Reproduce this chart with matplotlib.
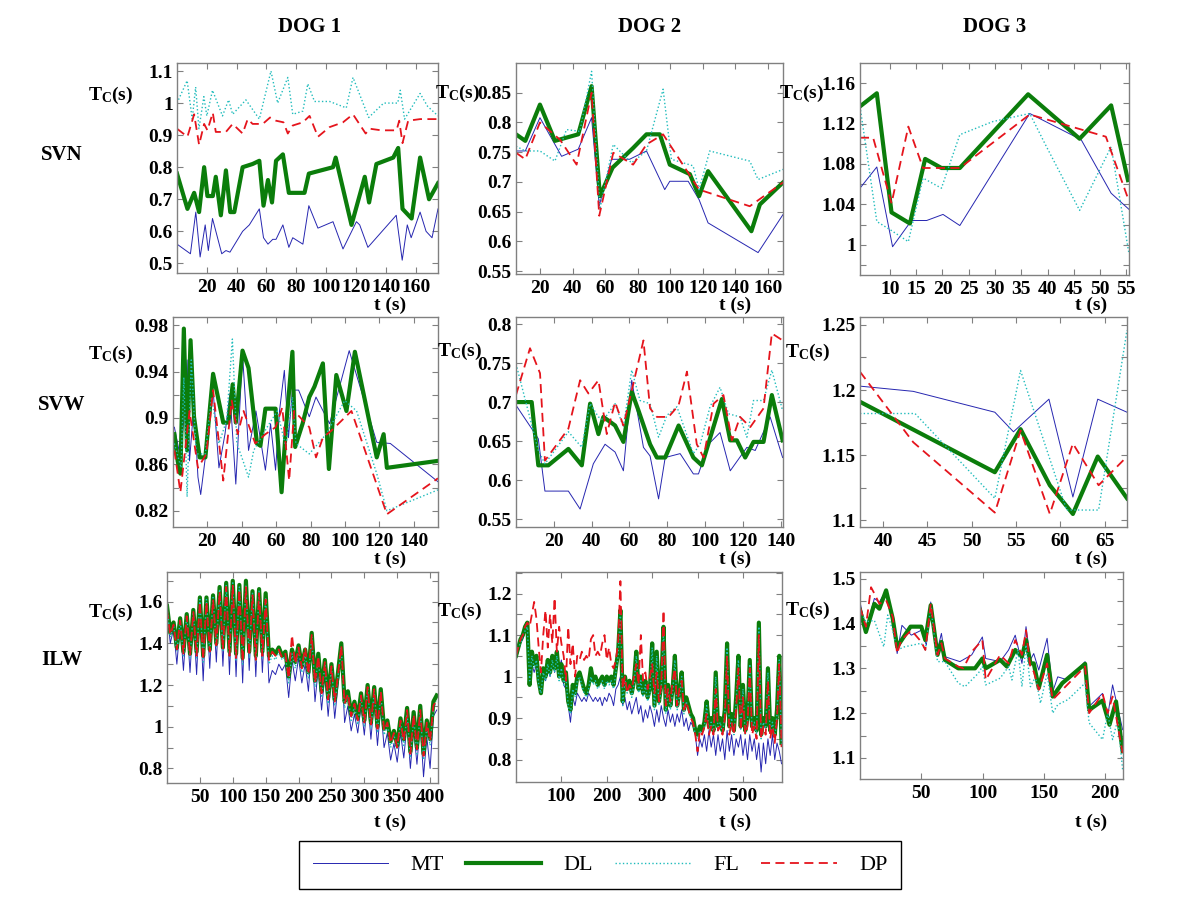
import matplotlib
matplotlib.use("Agg")
import matplotlib.pyplot as plt
from matplotlib.lines import Line2D

plt.rcParams['font.family'] = ['Liberation Serif', 'DejaVu Serif']
plt.rcParams['mathtext.fontset'] = 'custom'
plt.rcParams['mathtext.rm'] = 'Liberation Serif:bold'
plt.rcParams['mathtext.it'] = 'Liberation Serif:bold'
plt.rcParams['mathtext.bf'] = 'Liberation Serif:bold'

series_names = ['MT', 'DL', 'FL', 'DP']
dogs = ['DOG 1', 'DOG 2', 'DOG 3']
rows = ['SVN', 'SVW', 'ILW']

# ---------------- SVN, dog 1 ----------------
svn1_mt_t = [0, 9, 12.6, 15.5, 18.9, 21, 23.8, 30, 32.8, 35.5, 44, 48.5, 55.2, 58, 61, 64.2, 66.4, 71, 75,
             77.6, 84.4, 88.4, 94.5, 104.6, 111.3, 120.3, 122.5, 128, 133.7, 147, 151, 154.4, 157, 163,
             167, 171, 175]
svn1_mt = [0.56, 0.53, 0.66, 0.52, 0.62, 0.54, 0.64, 0.53, 0.54, 0.535, 0.6, 0.62, 0.67, 0.58, 0.56, 0.575,
           0.575, 0.62, 0.55, 0.58, 0.56, 0.68, 0.61, 0.63, 0.545, 0.63, 0.62, 0.55, 0.58, 0.65, 0.51, 0.62,
           0.58, 0.66, 0.6, 0.58, 0.67]
svn1_dl_t = [0, 7, 11.5, 14.8, 18.2, 20.4, 24, 26, 29.4, 32.8, 35.7, 38.4, 44, 50.7, 55.2, 58, 61, 63.7, 66.4,
             71, 75, 85.5, 88.4, 104.6, 106.4, 117, 125.9, 128.8, 133.7, 145, 148.3, 151.2, 157.3, 163,
             169, 175]
svn1_dl = [0.78, 0.67, 0.72, 0.66, 0.8, 0.71, 0.71, 0.77, 0.65, 0.79, 0.66, 0.66, 0.8, 0.81, 0.82, 0.68,
           0.76, 0.69, 0.82, 0.84, 0.72, 0.72, 0.78, 0.8, 0.83, 0.62, 0.77, 0.69, 0.81, 0.83, 0.86, 0.67,
           0.64, 0.83, 0.7, 0.75]
svn1_fl_t = [0, 6.8, 10.2, 12.5, 14.7, 18, 20, 23.8, 30.5, 34.6, 37.3, 46.2, 55.2, 63, 67.5, 74.3, 77.6,
             84.4, 87.7, 92.2, 102.3, 113.5, 118, 128.5, 138.6, 148, 149.7, 152.6, 163, 168, 175]
svn1_fl = [1.0, 1.07, 0.95, 1.05, 0.92, 1.02, 0.96, 1.04, 0.96, 1.01, 0.965, 1.01, 0.95, 1.1, 1.0, 1.08,
           0.965, 0.975, 1.06, 1.005, 1.005, 0.985, 1.08, 0.955, 1.0, 1.0, 1.04, 0.95, 1.03, 0.99, 0.96]
svn1_dp_t = [0, 7, 11.5, 14.8, 18.2, 20.4, 24, 26, 32.8, 37.3, 44, 47.4, 50.7, 57.5, 62.4, 66.4, 71.4, 74.3,
             77.6, 84.4, 88.9, 94.5, 102.3, 111.3, 118, 126.5, 129.3, 137, 147.2, 149, 151.2, 155, 163, 175]
svn1_dp = [0.92, 0.895, 0.965, 0.87, 0.935, 0.915, 0.97, 0.91, 0.91, 0.935, 0.905, 0.95, 0.935, 0.935,
           0.955, 0.945, 0.94, 0.905, 0.93, 0.94, 0.96, 0.895, 0.925, 0.94, 0.965, 0.905, 0.92, 0.915,
           0.915, 0.945, 0.875, 0.945, 0.95, 0.95]

# ---------------- SVN, dog 2 ----------------
svn2_mt_t = [5.3, 11, 20, 33.3, 43.5, 51.7, 56.4, 64, 75, 85.4, 96.6, 99.7, 111, 117.7, 123.2, 153.9, 169.2]
svn2_mt = [0.752, 0.752, 0.808, 0.743, 0.755, 0.808, 0.66, 0.738, 0.738, 0.752, 0.687, 0.701, 0.701, 0.67,
           0.631, 0.581, 0.645]
svn2_dl_t = [5.3, 11, 20, 29.2, 43.5, 51.7, 56.8, 64.6, 77.2, 85.4, 93.6, 99.7, 112, 117.7, 123.2, 149.8,
             155, 169.2]
svn2_dl = [0.78, 0.769, 0.83, 0.769, 0.78, 0.861, 0.676, 0.724, 0.757, 0.78, 0.78, 0.729, 0.713, 0.676,
           0.718, 0.617, 0.662, 0.699]
svn2_fl_t = [5.3, 11, 20, 29.2, 36.3, 44.5, 51.7, 56.8, 65, 76.2, 85.4, 95.6, 100.7, 114, 117.7, 124.2,
             148.8, 153.9, 169.2]
svn2_fl = [0.76, 0.752, 0.752, 0.735, 0.788, 0.785, 0.886, 0.654, 0.763, 0.732, 0.752, 0.856, 0.738,
           0.727, 0.687, 0.752, 0.735, 0.704, 0.721]
svn2_dp_t = [5.3, 11, 20, 32.3, 42.5, 51.7, 56.4, 65, 77.2, 85.4, 95.6, 117.7, 148.8, 169.2]
svn2_dp = [0.749, 0.738, 0.8, 0.771, 0.729, 0.85, 0.643, 0.749, 0.729, 0.763, 0.78, 0.687, 0.659, 0.699]

# ---------------- SVN, dog 3 ----------------
svn3_mt_t = [4.3, 7.5, 10.5, 14.1, 17, 20.1, 23.3, 36.6, 46.4, 52.1, 55.5]
svn3_mt = [1.056, 1.077, 0.998, 1.024, 1.024, 1.03, 1.019, 1.13, 1.104, 1.051, 1.035]
svn3_dl_t = [4.3, 7.5, 10.3, 13.8, 16.7, 19.8, 23.3, 36.3, 46.1, 52.1, 55.3]
svn3_dl = [1.137, 1.15, 1.032, 1.021, 1.085, 1.076, 1.076, 1.149, 1.105, 1.138, 1.064]
svn3_fl_t = [4.3, 7.5, 10.3, 13.5, 16.3, 19.8, 23.3, 29.6, 36.6, 39.8, 46.1, 52.1, 55.5]
svn3_fl = [1.137, 1.023, 1.014, 1.003, 1.066, 1.056, 1.109, 1.122, 1.13, 1.097, 1.034, 1.097, 0.991]
svn3_dp_t = [4.3, 6.8, 10.3, 13.5, 16.3, 23.3, 36.6, 51.1, 55.3]
svn3_dp = [1.106, 1.106, 1.041, 1.117, 1.076, 1.076, 1.129, 1.107, 1.046]

# ---------------- SVW, dog 1 ----------------
svw1_mt_t = [0.8, 4.3, 6.7, 8.2, 9.6, 12.2, 14.5, 16.1, 18.8, 23.3, 26.7, 30.2, 33.1, 36.5, 40.4, 43.9,
             48.2, 53.7, 56.7, 59.6, 61.9, 64.7, 67.1, 69.4, 73, 79.2, 83.1, 91, 102.4, 118.4, 126.3, 154]
svw1_mt = [0.892, 0.866, 0.906, 0.95, 0.863, 0.912, 0.849, 0.834, 0.866, 0.924, 0.857, 0.886, 0.921, 0.843,
           0.955, 0.872, 0.906, 0.855, 0.895, 0.855, 0.906, 0.941, 0.883, 0.924, 0.924, 0.901, 0.918, 0.895,
           0.958, 0.879, 0.878, 0.845]
svw1_dl_t = [0.8, 2.7, 4.3, 6.3, 8.2, 10.2, 12.2, 15.5, 18.8, 23.3, 29.2, 32.2, 34.7, 36.5, 40.4, 43.9, 48.8,
             50.8, 53.7, 59.6, 63.1, 65.5, 69.4, 71, 75.3, 79.2, 82.2, 87.1, 90.6, 94.9, 100.8, 105.7, 118.4,
             122.4, 124.3, 154]
svw1_dl = [0.886, 0.863, 0.852, 0.977, 0.872, 0.967, 0.901, 0.866, 0.866, 0.938, 0.896, 0.896, 0.929, 0.896,
           0.958, 0.943, 0.878, 0.876, 0.908, 0.908, 0.836, 0.889, 0.957, 0.875, 0.895, 0.918, 0.927, 0.947,
           0.856, 0.937, 0.906, 0.957, 0.866, 0.886, 0.857, 0.863]
svw1_fl_t = [0.8, 4.7, 6.3, 8.2, 10.6, 13.5, 18.8, 22.4, 26.7, 31.2, 34.5, 37.1, 40, 43.9, 46.9, 54.7, 60.6,
             65.5, 69.4, 71.4, 79.2, 89, 99.8, 106.7, 118.4, 124.3, 154]
svw1_fl = [0.878, 0.857, 0.935, 0.832, 0.95, 0.869, 0.869, 0.918, 0.878, 0.898, 0.968, 0.878, 0.866, 0.849,
           0.872, 0.892, 0.906, 0.875, 0.918, 0.878, 0.869, 0.886, 0.915, 0.906, 0.852, 0.82, 0.838]
svw1_dp_t = [0.8, 4.3, 9.6, 14.5, 19.4, 23.3, 29.2, 34.1, 37.6, 41, 47.8, 53.7, 59.6, 63.5, 67.5, 70.4, 79.2,
             83.1, 87.1, 92, 103.7, 124.3, 154]
svw1_dp = [0.872, 0.836, 0.906, 0.857, 0.869, 0.924, 0.846, 0.915, 0.886, 0.906, 0.878, 0.886, 0.892, 0.909,
           0.846, 0.906, 0.892, 0.866, 0.883, 0.889, 0.906, 0.817, 0.848]

# ---------------- SVW, dog 2 ----------------
svw2_mt_t = [0, 8.3, 11.8, 15.3, 27.7, 33.9, 40.9, 47.1, 52.4, 56.8, 61.2, 67.4, 70.9, 75.4, 78.9, 86.8, 93.8,
             96.5, 101.8, 107.9, 113.3, 122.1, 126.5, 134.4, 141]
svw2_mt = [0.696, 0.666, 0.653, 0.586, 0.586, 0.563, 0.621, 0.646, 0.636, 0.612, 0.728, 0.642, 0.631, 0.576,
           0.629, 0.634, 0.608, 0.608, 0.646, 0.661, 0.612, 0.642, 0.638, 0.681, 0.629]
svw2_dl_t = [0, 8.3, 11.8, 17.1, 27.7, 34.8, 39.2, 43.6, 46.2, 52.4, 56.8, 61.2, 64.8, 70.9, 74.5, 78.9, 86,
             93.8, 98.3, 108.9, 113.3, 116.8, 121.2, 125.6, 130.9, 135.3, 141]
svw2_dl = [0.7, 0.7, 0.619, 0.619, 0.64, 0.619, 0.698, 0.659, 0.681, 0.67, 0.649, 0.713, 0.689, 0.646, 0.629,
           0.629, 0.67, 0.629, 0.619, 0.704, 0.651, 0.651, 0.629, 0.649, 0.649, 0.709, 0.651]
svw2_fl_t = [0, 11.8, 15.3, 27.7, 34.8, 39.2, 43.6, 46.2, 52.4, 56.8, 61.2, 65.6, 70.9, 75.4, 79.8, 85.1, 93.8,
             97.4, 102.6, 107.9, 112.4, 118.5, 122.1, 125.6, 130.9, 135.3, 141]
svw2_fl = [0.749, 0.638, 0.621, 0.662, 0.642, 0.698, 0.681, 0.677, 0.698, 0.668, 0.741, 0.702, 0.698, 0.655,
           0.683, 0.694, 0.634, 0.646, 0.694, 0.719, 0.685, 0.681, 0.655, 0.702, 0.702, 0.741, 0.689]
svw2_dp_t = [0, 7.4, 12.7, 15.3, 27.7, 33.9, 38.3, 43.6, 48, 52.4, 56.8, 62.1, 67.4, 70.9, 74.5, 80.7, 86, 90.4,
             95.6, 99.2, 104.5, 109.7, 114.2, 118.5, 123.9, 130.9, 135.3, 141]
svw2_dp = [0.709, 0.769, 0.737, 0.625, 0.666, 0.728, 0.711, 0.728, 0.659, 0.7, 0.67, 0.724, 0.779, 0.692, 0.681,
           0.681, 0.696, 0.739, 0.646, 0.629, 0.698, 0.709, 0.651, 0.681, 0.668, 0.692, 0.788, 0.779]

# ---------------- SVW, dog 3 ----------------
svw3_mt_t = [37.4, 43.4, 52.6, 54.7, 58.7, 61.4, 64.2, 67.5]
svw3_mt = [1.203, 1.199, 1.183, 1.168, 1.193, 1.118, 1.193, 1.183]
svw3_dl_t = [37.4, 52.6, 55.5, 58.8, 61.4, 64.2, 67.5]
svw3_dl = [1.191, 1.137, 1.17, 1.127, 1.105, 1.149, 1.117]
svw3_fl_t = [37.4, 43.6, 52.6, 55.5, 60.7, 64.3, 67.5]
svw3_fl = [1.182, 1.182, 1.117, 1.215, 1.108, 1.108, 1.246]
svw3_dp_t = [37.4, 43.4, 52.6, 55.5, 58.8, 61.4, 64.3, 67.5]
svw3_dp = [1.214, 1.16, 1.106, 1.169, 1.105, 1.159, 1.127, 1.149]

# ---------------- ILW, dog 1 (sampled every 5 s) ----------------
ilw1_t = list(range(0, 415, 5))
ilw1_mt = [1.55, 1.40, 1.47, 1.30, 1.49, 1.27, 1.51, 1.26, 1.53, 1.25,
           1.58, 1.22, 1.58, 1.28, 1.59, 1.31, 1.63, 1.29, 1.65, 1.25,
           1.66, 1.24, 1.64, 1.21, 1.65, 1.27, 1.61, 1.24, 1.61, 1.26,
           1.58, 1.21, 1.27, 1.25, 1.30, 1.27, 1.30, 1.14, 1.32, 1.22,
           1.33, 1.21, 1.30, 1.17, 1.40, 1.12, 1.28, 1.08, 1.25, 1.05,
           1.24, 1.04, 1.20, 1.35, 1.02, 1.10, 0.98, 1.06, 0.97, 1.10,
           0.96, 1.14, 0.94, 1.12, 0.91, 1.10, 0.90, 0.97, 0.84, 0.92,
           0.83, 0.97, 0.85, 1.02, 0.80, 0.99, 0.82, 1.02, 0.76, 0.95,
           0.80, 1.05, 1.08]
ilw1_dl = [1.58, 1.45, 1.50, 1.38, 1.52, 1.36, 1.54, 1.35, 1.56, 1.36,
           1.62, 1.34, 1.62, 1.37, 1.63, 1.40, 1.67, 1.38, 1.69, 1.36,
           1.70, 1.35, 1.68, 1.33, 1.70, 1.36, 1.65, 1.34, 1.66, 1.36,
           1.64, 1.34, 1.37, 1.35, 1.38, 1.34, 1.36, 1.24, 1.37, 1.31,
           1.39, 1.29, 1.37, 1.26, 1.45, 1.22, 1.35, 1.17, 1.32, 1.14,
           1.30, 1.13, 1.26, 1.40, 1.12, 1.17, 1.06, 1.12, 1.04, 1.16,
           1.03, 1.20, 1.02, 1.19, 1.00, 1.18, 0.99, 1.03, 0.93, 0.98,
           0.91, 1.04, 0.94, 1.09, 0.88, 1.07, 0.90, 1.10, 0.87, 1.03,
           0.94, 1.12, 1.15]
ilw1_fl = [1.57, 1.43, 1.49, 1.36, 1.51, 1.34, 1.53, 1.33, 1.55, 1.33,
           1.61, 1.31, 1.61, 1.35, 1.62, 1.38, 1.66, 1.36, 1.68, 1.33,
           1.69, 1.32, 1.67, 1.30, 1.68, 1.33, 1.64, 1.31, 1.65, 1.33,
           1.62, 1.30, 1.34, 1.32, 1.36, 1.32, 1.34, 1.21, 1.35, 1.28,
           1.37, 1.26, 1.35, 1.23, 1.43, 1.19, 1.33, 1.14, 1.30, 1.11,
           1.28, 1.10, 1.24, 1.38, 1.09, 1.15, 1.03, 1.10, 1.01, 1.14,
           1.00, 1.18, 0.99, 1.17, 0.97, 1.16, 0.96, 1.01, 0.90, 0.96,
           0.89, 1.02, 0.91, 1.06, 0.85, 1.04, 0.87, 1.07, 0.84, 1.00,
           0.91, 1.09, 1.12]
ilw1_dp = [1.56, 1.44, 1.49, 1.37, 1.51, 1.35, 1.53, 1.34, 1.55, 1.34,
           1.60, 1.32, 1.60, 1.36, 1.61, 1.39, 1.65, 1.37, 1.67, 1.34,
           1.68, 1.33, 1.66, 1.31, 1.67, 1.34, 1.63, 1.32, 1.64, 1.34,
           1.61, 1.32, 1.36, 1.34, 1.37, 1.33, 1.35, 1.23, 1.44, 1.30,
           1.38, 1.28, 1.38, 1.25, 1.44, 1.21, 1.34, 1.16, 1.31, 1.13,
           1.29, 1.12, 1.25, 1.39, 1.11, 1.16, 1.05, 1.11, 1.03, 1.15,
           1.02, 1.19, 1.01, 1.18, 0.99, 1.17, 0.98, 1.02, 0.92, 0.97,
           0.90, 1.03, 0.93, 1.08, 0.87, 1.06, 0.89, 1.08, 0.86, 1.02,
           0.93, 1.10, 1.13]

# ---------------- ILW, dog 2 (sampled every 5 s) ----------------
ilw2_t = list(range(0, 590, 5))
ilw2_mt = [1.04, 1.06, 1.08, 1.09, 1.11, 1.12, 1.00, 1.03, 1.01, 1.03,
           0.98, 0.97, 1.00, 0.99, 1.02, 1.00, 1.04, 1.01, 1.05, 1.02,
           1.04, 0.98, 0.97, 0.93, 0.89, 0.95, 0.93, 0.96, 0.95, 0.94,
           0.95, 0.94, 0.96, 0.95, 0.94, 0.95, 0.94, 0.95, 0.93, 0.95,
           0.94, 0.96, 0.95, 0.93, 0.97, 0.98, 1.00, 0.93, 0.95, 0.92,
           0.94, 0.91, 0.93, 0.95, 0.91, 0.93, 0.89, 0.92, 0.90, 0.93,
           0.91, 0.88, 0.92, 0.89, 0.93, 0.90, 0.88, 0.92, 0.89, 0.91,
           0.88, 0.91, 0.89, 0.92, 0.88, 0.90, 0.87, 0.89, 0.88, 0.86,
           0.81, 0.85, 0.83, 0.86, 0.82, 0.87, 0.83, 0.86, 0.81, 0.86,
           0.82, 0.85, 0.80, 0.87, 0.82, 0.86, 0.81, 0.85, 0.83, 0.86,
           0.81, 0.85, 0.80, 0.86, 0.82, 0.85, 0.80, 0.84, 0.77, 0.84,
           0.79, 0.85, 0.81, 0.86, 0.80, 0.84, 0.82, 0.79]
ilw2_dl = [1.05, 1.07, 1.09, 1.10, 1.12, 1.13, 0.98, 1.06, 1.03, 1.05,
           0.99, 0.96, 1.02, 1.00, 1.04, 1.01, 1.05, 1.02, 1.06, 1.00,
           1.03, 0.99, 1.01, 0.94, 0.92, 0.98, 0.96, 1.00, 1.01, 0.99,
           0.97, 0.96, 0.98, 1.02, 0.99, 1.00, 0.98, 0.99, 1.00, 0.98,
           1.00, 0.99, 1.00, 0.98, 1.02, 1.06, 1.16, 0.94, 1.00, 0.97,
           0.99, 0.96, 0.99, 1.06, 0.97, 1.00, 0.96, 0.99, 0.95, 0.97,
           1.08, 0.93, 1.06, 0.94, 0.98, 1.12, 0.92, 0.98, 0.93, 0.97,
           1.05, 0.93, 0.96, 1.01, 0.92, 0.95, 0.93, 0.91, 0.90, 0.87,
           0.86, 0.88, 0.87, 0.89, 0.94, 0.88, 0.90, 0.87, 1.01, 0.88,
           0.90, 0.87, 0.92, 1.08, 0.88, 0.91, 0.87, 0.95, 1.05, 0.88,
           0.98, 0.87, 0.90, 1.04, 0.88, 0.90, 0.87, 1.13, 0.86, 0.90,
           0.88, 1.02, 0.87, 0.90, 0.86, 0.92, 1.05, 0.84]
ilw2_fl = [1.05, 1.07, 1.08, 1.10, 1.11, 1.12, 0.99, 1.05, 1.02, 1.04,
           0.98, 0.96, 1.01, 0.99, 1.03, 1.00, 1.04, 1.01, 1.05, 0.99,
           1.02, 0.98, 1.00, 0.93, 0.91, 0.97, 0.95, 0.99, 1.00, 0.98,
           0.96, 0.95, 0.97, 1.00, 0.98, 0.99, 0.97, 0.98, 0.99, 0.97,
           0.99, 0.98, 0.99, 0.97, 1.01, 1.05, 1.16, 0.93, 0.99, 0.96,
           0.98, 0.95, 0.98, 1.05, 0.96, 0.99, 0.95, 0.98, 0.94, 0.96,
           1.07, 0.92, 1.05, 0.93, 0.97, 1.11, 0.91, 0.97, 0.92, 0.96,
           1.04, 0.92, 0.95, 1.00, 0.91, 0.94, 0.92, 0.90, 0.89, 0.86,
           0.85, 0.87, 0.86, 0.88, 0.93, 0.87, 0.89, 0.86, 1.00, 0.87,
           0.89, 0.86, 0.91, 1.07, 0.87, 0.90, 0.86, 0.94, 1.04, 0.87,
           0.97, 0.86, 0.89, 1.03, 0.87, 0.89, 0.86, 1.12, 0.85, 0.89,
           0.87, 1.01, 0.86, 0.89, 0.85, 0.91, 1.04, 0.83]
ilw2_dp = [1.05, 1.07, 1.09, 1.10, 1.12, 1.13, 1.12, 1.15, 1.18, 1.14,
           1.07, 1.01, 1.10, 1.16, 1.07, 1.15, 1.08, 1.19, 1.06, 1.12,
           1.08, 1.05, 0.99, 1.12, 1.03, 1.08, 1.00, 1.05, 1.04, 1.06,
           1.04, 1.05, 1.04, 1.09, 1.10, 1.05, 1.06, 1.05, 1.08, 1.10,
           1.04, 1.07, 1.03, 1.02, 1.04, 1.08, 1.23, 0.97, 1.00, 0.96,
           0.98, 0.97, 1.00, 1.03, 0.98, 1.10, 0.99, 1.01, 0.97, 1.00,
           1.03, 0.96, 1.01, 0.94, 0.98, 1.16, 0.93, 0.97, 0.94, 0.99,
           1.02, 0.93, 0.97, 0.99, 0.92, 0.94, 0.92, 0.90, 0.89, 0.86,
           0.82, 0.87, 0.86, 0.88, 0.91, 0.86, 0.88, 0.86, 0.97, 0.87,
           0.88, 0.86, 0.90, 1.05, 0.86, 0.89, 0.86, 0.92, 1.02, 0.87,
           0.95, 0.86, 0.88, 1.02, 0.86, 0.88, 0.85, 1.10, 0.85, 0.88,
           0.86, 0.99, 0.85, 0.88, 0.84, 0.90, 1.03, 0.83]

# ---------------- ILW, dog 3 ----------------
ilw3_mt_t = [0, 4.8, 11.7, 15.8, 21.3, 26.7, 30.3, 34.2, 41.9, 50, 54.1, 57.7, 62.4, 66.4, 69.2, 81.5, 91.1,
             99.8, 102.5, 114.3, 121.2, 126.6, 132.1, 135.4, 139, 141.7, 145.8, 152.6, 157.2, 161.3, 169.5,
             183.6, 186.9, 197.8, 202, 206, 214.2]
ilw3_mt = [1.448, 1.385, 1.456, 1.448, 1.474, 1.415, 1.333, 1.396, 1.374, 1.385, 1.352, 1.448, 1.333, 1.378,
           1.326, 1.315, 1.33, 1.37, 1.322, 1.315, 1.341, 1.374, 1.311, 1.393, 1.319, 1.333, 1.296, 1.367,
           1.248, 1.281, 1.274, 1.315, 1.215, 1.244, 1.193, 1.263, 1.163]
ilw3_dl_t = [0, 4.8, 11.7, 15.8, 21.3, 26.7, 30.3, 41.2, 50, 53.3, 57.7, 63.2, 66.4, 69.2, 80.1, 93.8, 99.8,
             102.5, 114.3, 119.8, 126.6, 132.1, 135.4, 139, 141.7, 145.8, 152.6, 157.2, 165, 183.6, 186.9,
             197.8, 203.5, 208.8, 214.2]
ilw3_dl = [1.43, 1.381, 1.444, 1.433, 1.474, 1.411, 1.348, 1.393, 1.393, 1.363, 1.441, 1.33, 1.359, 1.319,
           1.3, 1.3, 1.322, 1.3, 1.319, 1.304, 1.341, 1.326, 1.363, 1.311, 1.311, 1.256, 1.33, 1.237, 1.267,
           1.31, 1.207, 1.228, 1.174, 1.226, 1.115]
ilw3_fl_t = [0, 4.8, 11.7, 19.4, 22.6, 26.7, 30.3, 36.3, 50, 53.3, 57.7, 63.2, 69.2, 80.1, 85.6, 96.5, 99.8,
             102.5, 114.3, 121.2, 123.9, 128.8, 132.1, 135.4, 139, 143.1, 147.2, 152.6, 157.2, 161.3, 169.5,
             183.6, 186.9, 197.8, 202, 206, 210.2, 214.2]
ilw3_fl = [1.43, 1.404, 1.407, 1.348, 1.419, 1.385, 1.341, 1.348, 1.356, 1.341, 1.437, 1.315, 1.315, 1.267,
           1.259, 1.289, 1.304, 1.263, 1.278, 1.304, 1.274, 1.341, 1.259, 1.352, 1.259, 1.281, 1.222, 1.289,
           1.2, 1.219, 1.23, 1.267, 1.178, 1.141, 1.2, 1.141, 1.185, 1.074]
ilw3_dp_t = [0, 4.8, 9, 11.7, 15.8, 21.3, 26.7, 30.3, 33.6, 41.9, 50, 53.3, 57.7, 63.2, 66.4, 69.2, 80.1, 84.2,
             91.1, 99.8, 102.5, 114.3, 121.2, 126.6, 132.1, 135.4, 139, 141.7, 145.8, 152.6, 157.2, 165,
             183.6, 186.9, 197.8, 202, 206, 214.2]
ilw3_dp = [1.437, 1.393, 1.481, 1.467, 1.444, 1.452, 1.415, 1.333, 1.363, 1.385, 1.359, 1.341, 1.444, 1.33,
           1.356, 1.322, 1.304, 1.3, 1.337, 1.363, 1.274, 1.33, 1.311, 1.363, 1.33, 1.385, 1.3, 1.293, 1.252,
           1.311, 1.23, 1.252, 1.304, 1.2, 1.244, 1.2, 1.237, 1.111]

STYLE = {
    'MT': dict(color='#2626b0', lw=0.7, ls='-'),
    'DL': dict(color='#0b7d0b', lw=3.0, ls='-'),
    'FL': dict(color='#20bcbc', lw=1.0, ls=':'),
    'DP': dict(color='#e5141c', lw=1.3, ls=(0, (5, 3))),
}

W, H = 1200, 900
fig = plt.figure(figsize=(12, 9), dpi=100)


def fmt(v):
    return f"{round(v, 4):g}"


def panel(rect, data, xlim, ylim, xticks, yticks, ylabels, tc_xy, t_xy):
    x0, y0, x1, y1 = rect
    ax = fig.add_axes([x0 / W, 1 - y1 / H, (x1 - x0) / W, (y1 - y0) / H])
    for name, (xs, ys) in zip(series_names, data):
        ax.plot(xs, ys, **STYLE[name])
    ax.set_xlim(*xlim)
    ax.set_ylim(*ylim)
    ax.set_xticks(xticks)
    ax.set_xticklabels([fmt(v) for v in xticks], fontweight='bold', fontsize=14)
    ax.set_yticks(yticks)
    ax.set_yticklabels([fmt(v) if v in ylabels else '' for v in yticks], fontweight='bold', fontsize=14)
    ax.tick_params(direction='in', top=True, right=True, length=4, width=0.8, color='#808080')
    ax.tick_params(axis='y', pad=3)
    ax.tick_params(axis='x', pad=4)
    for s in ax.spines.values():
        s.set_color('#808080')
        s.set_linewidth(1.0)
    fig.text(tc_xy[0] / W, 1 - tc_xy[1] / H, r'T$_\mathrm{C}$(s)', ha='right', va='center',
             fontsize=14, fontweight='bold')
    fig.text(t_xy[0] / W, 1 - t_xy[1] / H, 't (s)', ha='center', va='center', fontsize=14, fontweight='bold')
    return ax


# row SVN  (T_C label positions given by their right edge)
panel((177, 63, 438, 273),
      [(svn1_mt_t, svn1_mt), (svn1_dl_t, svn1_dl), (svn1_fl_t, svn1_fl), (svn1_dp_t, svn1_dp)],
      (0, 175), (0.47, 1.125), [20, 40, 60, 80, 100, 120, 140, 160],
      [0.5, 0.6, 0.7, 0.8, 0.9, 1.0, 1.1], [0.5, 0.6, 0.7, 0.8, 0.9, 1.0, 1.1], (133, 95), (390, 305))
panel((516, 63, 783, 274),
      [(svn2_mt_t, svn2_mt), (svn2_dl_t, svn2_dl), (svn2_fl_t, svn2_fl), (svn2_dp_t, svn2_dp)],
      (5.3, 169.2), (0.545, 0.9), [20, 40, 60, 80, 100, 120, 140, 160],
      [0.55, 0.6, 0.65, 0.7, 0.75, 0.8, 0.85], [0.55, 0.6, 0.65, 0.7, 0.75, 0.8, 0.85], (480, 93), (735, 305))
panel((860, 63, 1129, 275),
      [(svn3_mt_t, svn3_mt), (svn3_dl_t, svn3_dl), (svn3_fl_t, svn3_fl), (svn3_dp_t, svn3_dp)],
      (4.3, 55.5), (0.97, 1.18), [10, 15, 20, 25, 30, 35, 40, 45, 50, 55],
      [0.98, 1.0, 1.02, 1.04, 1.06, 1.08, 1.1, 1.12, 1.14, 1.16], [1.0, 1.04, 1.08, 1.12, 1.16],
      (824, 93), (1091, 305))
# row SVW
panel((173, 317, 438, 527),
      [(svw1_mt_t, svw1_mt), (svw1_dl_t, svw1_dl), (svw1_fl_t, svw1_fl), (svw1_dp_t, svw1_dp)],
      (0, 154), (0.806, 0.987), [20, 40, 60, 80, 100, 120, 140],
      [0.82, 0.84, 0.86, 0.88, 0.9, 0.92, 0.94, 0.96, 0.98], [0.82, 0.86, 0.9, 0.94, 0.98],
      (133, 354), (390, 559))
panel((516, 317, 783, 527),
      [(svw2_mt_t, svw2_mt), (svw2_dl_t, svw2_dl), (svw2_fl_t, svw2_fl), (svw2_dp_t, svw2_dp)],
      (0, 141.2), (0.54, 0.809), [20, 40, 60, 80, 100, 120, 140],
      [0.55, 0.6, 0.65, 0.7, 0.75, 0.8], [0.55, 0.6, 0.65, 0.7, 0.75, 0.8], (482, 351), (735, 559))
panel((860, 317, 1127, 527),
      [(svw3_mt_t, svw3_mt), (svw3_dl_t, svw3_dl), (svw3_fl_t, svw3_fl), (svw3_dp_t, svw3_dp)],
      (37.4, 67.5), (1.095, 1.256), [40, 45, 50, 55, 60, 65],
      [1.1, 1.125, 1.15, 1.175, 1.2, 1.225, 1.25], [1.1, 1.15, 1.2, 1.25], (830, 352), (1091, 559))
# row ILW
ilw1 = [(ilw1_t, ilw1_mt), (ilw1_t, ilw1_dl), (ilw1_t, ilw1_fl), (ilw1_t, ilw1_dp)]
panel((167, 572, 438, 783), ilw1,
      (0, 412), (0.73, 1.742), [50, 100, 150, 200, 250, 300, 350, 400],
      [0.8, 0.9, 1.0, 1.1, 1.2, 1.3, 1.4, 1.5, 1.6, 1.7], [0.8, 1.0, 1.2, 1.4, 1.6], (133, 612), (390, 822))
ilw2 = [(ilw2_t, ilw2_mt), (ilw2_t, ilw2_dl), (ilw2_t, ilw2_fl), (ilw2_t, ilw2_dp)]
panel((516, 572, 782, 782), ilw2,
      (0, 586), (0.746, 1.252), [100, 200, 300, 400, 500],
      [0.8, 0.85, 0.9, 0.95, 1.0, 1.05, 1.1, 1.15, 1.2, 1.25], [0.8, 0.9, 1.0, 1.1, 1.2], (482, 611), (735, 822))
panel((860, 572, 1123, 779),
      [(ilw3_mt_t, ilw3_mt), (ilw3_dl_t, ilw3_dl), (ilw3_fl_t, ilw3_fl), (ilw3_dp_t, ilw3_dp)],
      (0, 214.5), (1.053, 1.515), [50, 100, 150, 200],
      [1.1, 1.15, 1.2, 1.25, 1.3, 1.35, 1.4, 1.45, 1.5], [1.1, 1.2, 1.3, 1.4, 1.5], (830, 610), (1091, 822))

# column and row titles
for name, xc in zip(dogs, [310, 650, 995]):
    fig.text(xc / W, 1 - 27 / H, name, ha='center', va='center', fontsize=15, fontweight='bold')
for name, yc in zip(rows, [155, 405, 660]):
    fig.text(62 / W, 1 - yc / H, name, ha='center', va='center', fontsize=15, fontweight='bold')

handles = [Line2D([], [], **STYLE[n]) for n in series_names]
fig.legend(handles, series_names, loc='center', bbox_to_anchor=(600 / W, 1 - 865 / H), ncol=4,
           fontsize=16, frameon=True, fancybox=False, edgecolor='black', framealpha=1,
           handlelength=3.4, handletextpad=1.0, columnspacing=1.0, borderpad=0.6)

fig.savefig('out.png', dpi=100)
